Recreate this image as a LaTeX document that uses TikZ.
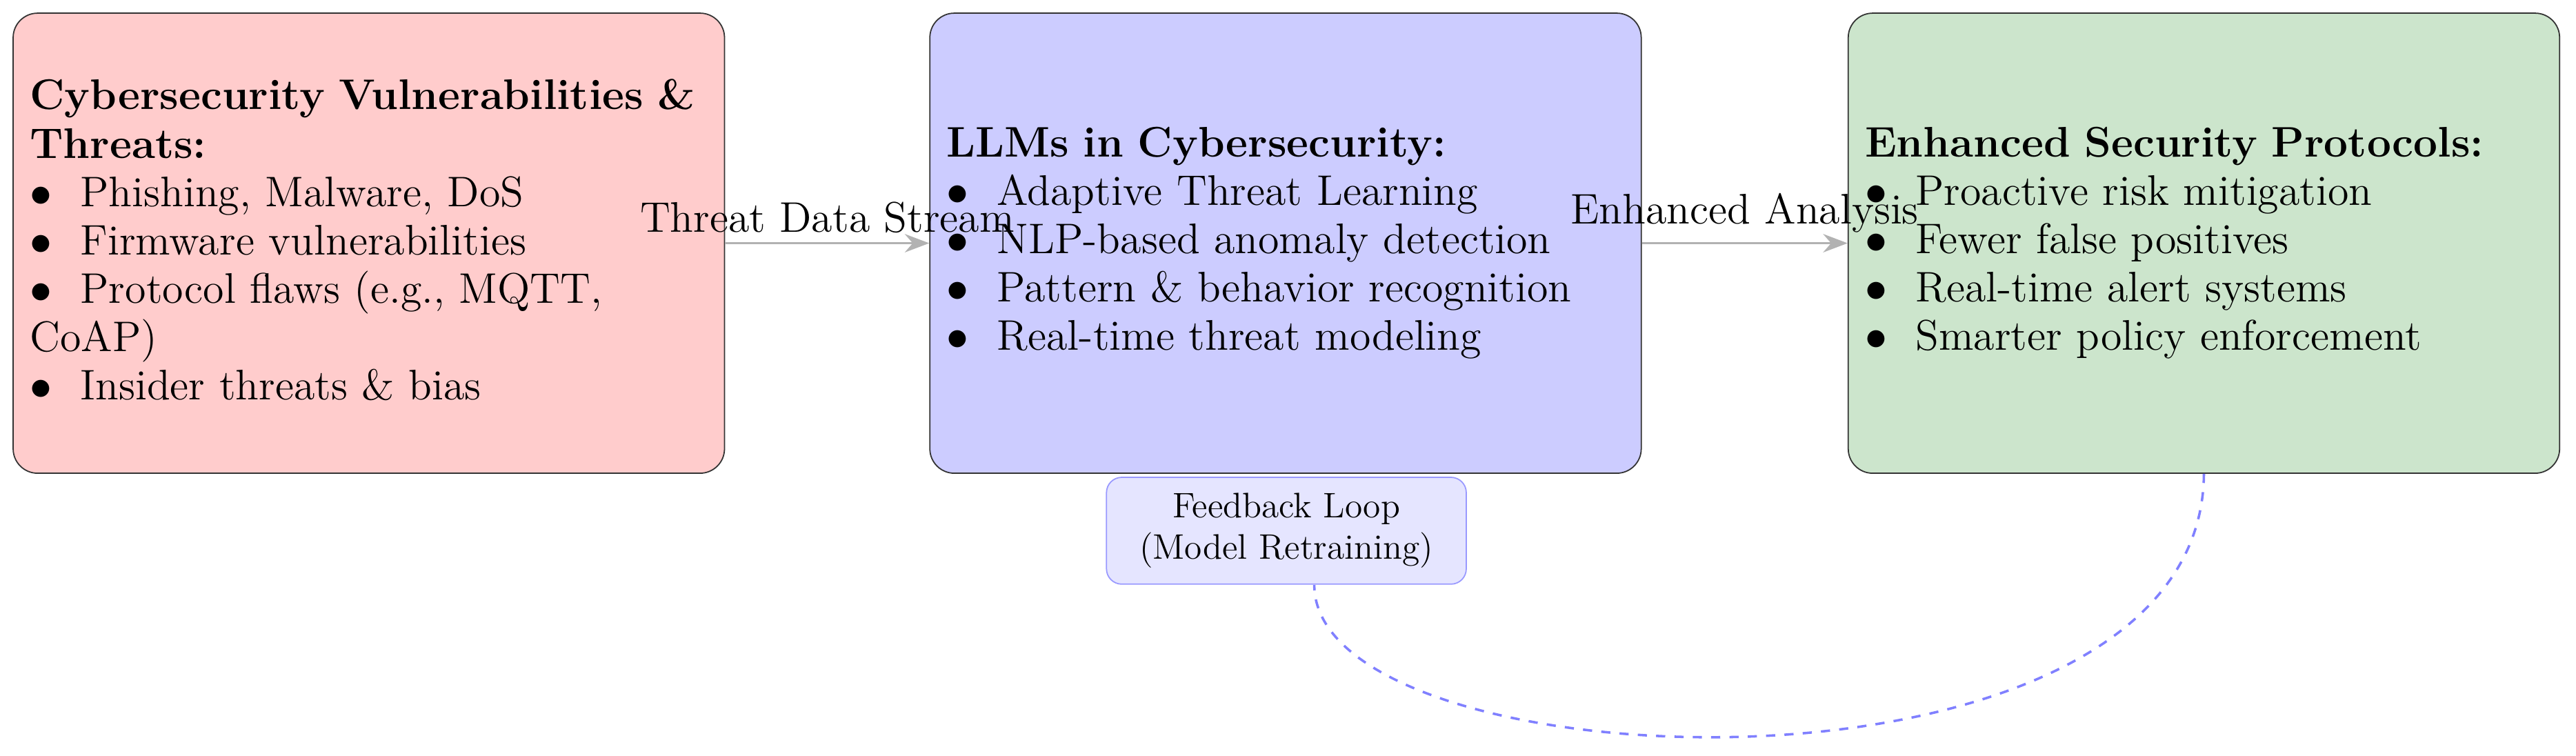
\documentclass[tikz,border=0pt]{standalone}
\usetikzlibrary{arrows.meta}
\definecolor{cRed}{RGB}{255,204,204}
\definecolor{cBlue}{RGB}{204,204,255}
\definecolor{cGreen}{RGB}{204,229,204}
\begin{document}
\begin{tikzpicture}[x=0.01889cm,y=-0.01889cm,
  box/.style={draw=black!80, rounded corners=8pt, minimum width=433*0.01889cm, minimum height=280*0.01889cm},
  txt/.style={text width=7.85cm, align=left, inner sep=0pt, font=\fontsize{14}{15.8}\selectfont},
  flow/.style={draw=black!30, thick, -{Stealth[length=8pt]}},
  lab/.style={font=\fontsize{14}{17}\selectfont, inner sep=3pt}]
\useasboundingbox (0,0) rectangle (1568,460);
\node[box, fill=cRed] (a) at (224.5,148) {};
\node[txt] (at) at (226,146) {\textbf{Cybersecurity Vulnerabilities \& Threats:}\\
$\bullet$\ \ Phishing, Malware, DoS\\
$\bullet$\ \ Firmware vulnerabilities\\
$\bullet$\ \ Protocol flaws (e.g., MQTT, CoAP)\\
$\bullet$\ \ Insider threats \& bias};
\node[box, fill=cBlue] (b) at (782.5,148) {};
\node[txt] (bt) at (784,148) {\textbf{LLMs in Cybersecurity:}\\
$\bullet$\ \ Adaptive Threat Learning\\
$\bullet$\ \ NLP-based anomaly detection\\
$\bullet$\ \ Pattern \& behavior recognition\\
$\bullet$\ \ Real-time threat modeling};
\node[box, fill=cGreen] (c) at (1341.5,148) {};
\node[txt] (ct) at (1343,148) {\textbf{Enhanced Security Protocols:}\\
$\bullet$\ \ Proactive risk mitigation\\
$\bullet$\ \ Fewer false positives\\
$\bullet$\ \ Real-time alert systems\\
$\bullet$\ \ Smarter policy enforcement};
\draw[flow] (a) -- node[lab, above] {Threat Data Stream} (b);
\draw[flow] (b) -- node[lab, above] {Enhanced Analysis} (c);
\draw[blue!50, thick, dashed] (c.south) .. controls (1340,500) and (800,480) .. (800,356);
\node[draw=blue!40, fill=blue!10, rounded corners=5pt, minimum width=219*0.01889cm, minimum height=65*0.01889cm] (f) at (783,323) {};
\node[align=center, inner sep=0pt, font=\fontsize{11.6}{13.6}\selectfont] (ft) at (f.center) {Feedback Loop\\(Model Retraining)};
\end{tikzpicture}
\end{document}
